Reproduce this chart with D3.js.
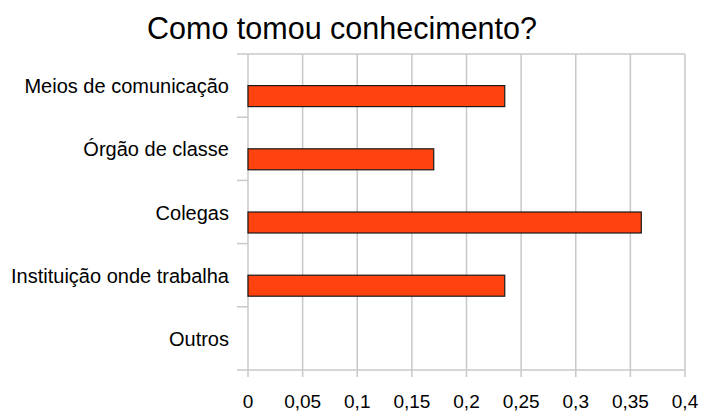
<!DOCTYPE html>
<html>
<head>
<meta charset="utf-8">
<script src="https://cdn.jsdelivr.net/npm/d3@7"></script>
<style>
  body { margin: 0; background: #fff; }
  text { font-family: "Liberation Sans", Arial, sans-serif; fill: #000; }
</style>
</head>
<body>
<div id="chart"></div>
<script>
const categories = ["Meios de comunicação", "Órgão de classe", "Colegas", "Instituição onde trabalha", "Outros"];
const values = [0.235, 0.17, 0.36, 0.235, 0];
const xTicks = [0, 0.05, 0.1, 0.15, 0.2, 0.25, 0.3, 0.35, 0.4];
const title = "Como tomou conhecimento?";

let width = 702, height = 412,
  margin = ({top: 54, right: 17, bottom: 42, left: 248});

const svg = d3.select("#chart")
  .append("svg")
  .attr("width", width)
  .attr("height", height);

let x = d3.scaleLinear()
  .domain([0, 0.4])
  .range([margin.left, width - margin.right]);

let y = d3.scaleBand()
  .domain(categories)
  .range([margin.top, height - margin.bottom]);

const fmt = d => String(d).replace(".", ",");

// gridlines
svg.append("g")
  .selectAll("line")
  .data(xTicks)
  .join("line")
  .attr("x1", d => x(d)).attr("x2", d => x(d))
  .attr("y1", margin.top).attr("y2", height - margin.bottom + 7)
  .attr("stroke", "#c8c8c8")
  .attr("stroke-width", 1.5);

// category separators (ticks on the left axis)
let bounds = categories.map(c => y(c)).concat([height - margin.bottom]);
svg.append("g")
  .selectAll("line")
  .data(bounds)
  .join("line")
  .attr("x1", margin.left - 11)
  .attr("x2", (d, i) => (i == 0 || i == bounds.length - 1) ? x(0.4) : margin.left)
  .attr("y1", d => d).attr("y2", d => d)
  .attr("stroke", "#c8c8c8")
  .attr("stroke-width", 1.5);

// bars, sitting just below the middle of each band
let barH = 21;
svg.append("g")
  .selectAll("rect")
  .data(categories.map((c, i) => ({c, v: values[i]})).filter(d => d.v > 0))
  .join("rect")
  .attr("x", x(0))
  .attr("y", d => y(d.c) + y.bandwidth() / 2)
  .attr("width", d => x(d.v) - x(0))
  .attr("height", barH)
  .attr("fill", "#ff420e")
  .attr("stroke", "#1a1a1a")
  .attr("stroke-width", 1.2);

// category labels
svg.append("g")
  .selectAll("text")
  .data(categories)
  .join("text")
  .attr("x", margin.left - 19)
  .attr("y", d => y(d) + y.bandwidth() / 2)
  .attr("dy", "0.38em")
  .attr("text-anchor", "end")
  .style("font-size", "20px")
  .text(d => d);

// x tick labels
svg.append("g")
  .selectAll("text")
  .data(xTicks)
  .join("text")
  .attr("x", d => x(d))
  .attr("y", 408)
  .attr("text-anchor", "middle")
  .style("font-size", "19px")
  .text(d => fmt(d));

svg.append("text")
  .attr("x", 342)
  .attr("y", 39)
  .attr("text-anchor", "middle")
  .style("font-size", "30.5px")
  .text(title);
</script>
</body>
</html>
